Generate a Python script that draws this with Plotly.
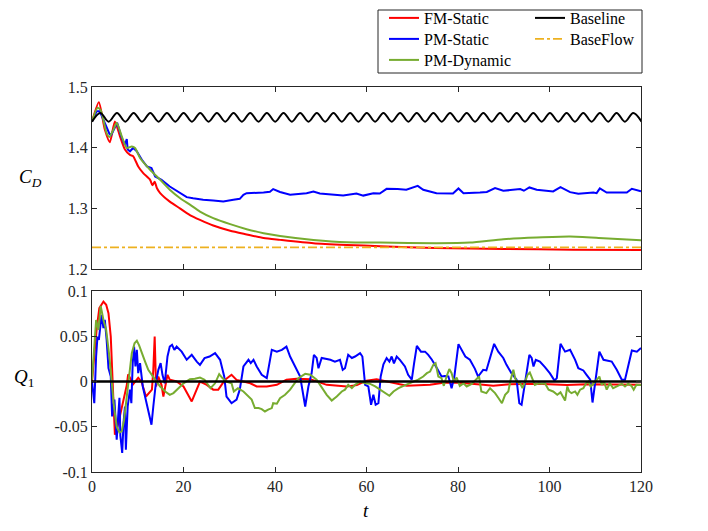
import plotly.graph_objects as go

# ---------------- data ----------------
# C_D (top panel)
red_t = [0, 1.5, 2.8, 3.9, 5.0, 6.1, 7.2, 8.3, 9.0, 10.1,
         11.2, 12.7, 13.2, 13.7, 14.2, 14.9, 17.0, 19.2, 21.4, 23.6,
         26.5, 30.2, 33.8, 37.5, 41.1, 48.4, 55.7, 63.0, 75.0, 90.0,
         105.0, 120.0]
red_cd = [1.443, 1.475, 1.430, 1.409, 1.443, 1.419, 1.397, 1.388, 1.386, 1.369,
          1.358, 1.347, 1.338, 1.344, 1.333, 1.325, 1.311, 1.300, 1.289, 1.281,
          1.2716, 1.263, 1.257, 1.251, 1.248, 1.2425, 1.2397, 1.2375, 1.2345, 1.233,
          1.2318, 1.2312]

green_t = [0, 1.2, 1.9, 3.2, 3.8, 4.7, 5.4, 6.5, 7.6, 8.7,
           9.4, 10.5, 12.7, 14.9, 17.0, 19.2, 21.4, 23.6, 26.5, 30.2,
           33.8, 37.5, 41.1, 48.4, 55.7, 63.0, 75.3, 82.6, 89.9, 97.2,
           104.5, 111.8, 120.0]
green_cd = [1.443, 1.4656, 1.4617, 1.424, 1.4177, 1.4298, 1.441, 1.4187, 1.3995, 1.402,
            1.3995, 1.383, 1.3636, 1.347, 1.3306, 1.317, 1.306, 1.2947, 1.2838, 1.2739,
            1.2656, 1.259, 1.2545, 1.248, 1.244, 1.2435, 1.2425, 1.2435, 1.249, 1.2518,
            1.2534, 1.2507, 1.2474]

blue_t = [0, 1.0, 1.7, 2.8, 3.8, 4.2, 5.0, 5.5, 6.5, 7.2,
          7.6, 7.8, 8.3, 9.0, 9.8, 10.9, 12.0, 13.0, 13.8, 15.2,
          17.0, 19.2, 20.7, 22.1, 24.3, 26.5, 28.7, 30.9, 32.3, 33.1,
          33.8, 37.5, 38.9, 39.6, 41.1, 43.3, 46.9, 48.4, 49.8, 54.9,
          57.8, 59.3, 61.5, 62.9, 64.4, 66.8, 68.7, 71.2, 72.4, 75.3,
          78.9, 80.1, 81.2, 84.8, 86.3, 88.1, 89.9, 93.6, 94.4, 95.6,
          97.2, 100.8, 102.4, 104.5, 106.3, 109.6, 110.3, 111.0, 112.5, 116.9,
          118.0, 120.0]
blue_cd = [1.443, 1.46, 1.46, 1.441, 1.423, 1.421, 1.435, 1.441, 1.416, 1.405,
           1.414, 1.397, 1.394, 1.3995, 1.394, 1.380, 1.369, 1.3665, 1.3526, 1.347,
           1.336, 1.325, 1.3185, 1.3165, 1.314, 1.313, 1.3112, 1.314, 1.3157, 1.3223,
           1.325, 1.326, 1.3273, 1.3317, 1.327, 1.3223, 1.325, 1.3278, 1.3245, 1.3212,
           1.3245, 1.321, 1.325, 1.3245, 1.3322, 1.3317, 1.3306, 1.337, 1.3306, 1.325,
           1.3245, 1.3328, 1.325, 1.3262, 1.327, 1.3333, 1.3289, 1.3317, 1.329, 1.3344,
           1.3306, 1.3278, 1.335, 1.3267, 1.324, 1.326, 1.325, 1.3328, 1.326, 1.326,
           1.3322, 1.328]

# Baseline: extrema of the vortex-shedding oscillation (trough / peak)
base_t = [0, 1.82, 3.64, 5.46, 7.28, 9.10, 10.92, 12.74, 14.56, 16.38,
          18.20, 20.02, 21.84, 23.66, 25.48, 27.30, 29.12, 30.94, 32.76, 34.58,
          36.40, 38.22, 40.04, 41.86, 43.68, 45.50, 47.32, 49.14, 50.96, 52.78,
          54.60, 56.42, 58.24, 60.06, 61.88, 63.70, 65.52, 67.34, 69.16, 70.98,
          72.80, 74.62, 76.44, 78.26, 80.08, 81.90, 83.72, 85.54, 87.36, 89.18,
          91.00, 92.82, 94.64, 96.46, 98.28, 100.10, 101.92, 103.74, 105.56, 107.38,
          109.20, 111.02, 112.84, 114.66, 116.48, 118.30, 120.12]
base_cd = [1.4428, 1.4572] * 33 + [1.4428]

baseflow_t = [0, 120]
baseflow_cd = [1.2358, 1.2358]

# Q_1 (bottom panel)
red_qt = [0, 1.0, 1.6, 2.5, 3.1, 3.6, 4.1, 4.5, 4.8, 5.0,
          5.3, 5.8, 6.5, 7.2, 7.6, 7.9, 9.0, 10.1, 10.8, 11.8,
          13.1, 13.4, 13.7, 14.0, 14.5, 15.2, 15.6, 16.5, 17.0, 18.5,
          20.0, 21.8, 22.5, 23.6, 25.1, 26.5, 27.6, 29.1, 30.5, 31.6,
          33.1, 34.6, 36.0, 38.2, 40.4, 42.5, 44.7, 47.7, 51.3, 55.7,
          57.9, 60.0, 62.2, 65.1, 68.8, 73.9, 76.8, 79.7, 82.6, 85.5,
          87.7, 91.3, 97.2, 103.8, 108.1, 113.2, 120.0]
red_q = [0, 0.057, 0.081, 0.0883, 0.0847, 0.0755, 0.0497, 0.0093, -0.035, -0.0588,
         -0.055, -0.045, -0.030, -0.012, -0.004, 0.008, -0.003, 0.004, 0.0, -0.0166,
         -0.009, 0.0129, 0.0497, -0.0055, 0.0055, -0.004, -0.0166, 0.0074, 0.002, 0.0,
         -0.0055, -0.022, -0.0128, 0.0, -0.0037, -0.009, -0.009, 0.002, 0.0074, 0.0018,
         0.0, -0.002, -0.0055, -0.0055, -0.0037, 0.002, 0.003, 0.0026, -0.0037, -0.0055,
         -0.004, 0.001, 0.0026, -0.0004, -0.0048, -0.0037, -0.0015, -0.001, -0.002, -0.0037,
         -0.0048, -0.003, -0.0025, -0.004, -0.003, -0.003, -0.0035]

blue_qt = [0, 0.5, 0.9, 1.2, 1.5, 1.7, 2.1, 2.5, 2.8, 3.2,
           3.6, 4.1, 4.4, 4.9, 5.4, 5.7, 6.0, 6.2, 6.6, 6.9,
           7.2, 7.4, 7.8, 8.3, 8.6, 8.9, 9.2, 9.5, 9.8, 10.1,
           10.5, 11.1, 11.6, 12.3, 13.0, 13.4, 14.0, 14.5, 15.0, 15.4,
           15.9, 16.5, 17.0, 17.5, 18.0, 18.5, 19.6, 20.7, 21.8, 22.9,
           23.6, 24.6, 25.7, 26.9, 28.0, 28.9, 29.4, 30.5, 31.6, 32.3,
           33.1, 34.2, 34.7, 35.3, 36.0, 37.1, 38.2, 39.3, 40.4, 41.5,
           42.5, 43.3, 44.4, 45.5, 46.6, 47.3, 48.0, 48.5, 49.1, 49.5,
           50.2, 52.1, 53.1, 54.2, 54.8, 55.3, 56.0, 56.8, 57.5, 58.6,
           59.1, 59.7, 60.4, 61.0, 61.5, 62.0, 62.6, 63.1, 63.7, 64.4,
           65.0, 65.5, 66.0, 66.6, 67.3, 68.4, 69.1, 69.9, 70.4, 71.0,
           71.9, 72.8, 73.5, 74.3, 75.4, 76.4, 77.1, 77.9, 78.6, 79.2,
           80.1, 80.8, 81.6, 82.6, 83.7, 84.4, 85.5, 86.2, 87.9, 88.8,
           89.9, 90.6, 91.7, 92.8, 93.4, 93.9, 94.7, 95.6, 96.1, 96.5,
           97.0, 97.9, 99.0, 100.1, 101.1, 101.6, 102.4, 103.4, 104.5, 105.6,
           106.3, 107.4, 108.1, 108.9, 109.4, 110.0, 110.9, 111.8, 113.6, 114.7,
           115.8, 116.5, 118.0, 119.1, 120.0]
blue_q = [0, -0.024, 0.0276, 0.0497, 0.046, 0.057, 0.0736, 0.059, 0.068, 0.046,
          0.0147, 0.0055, -0.0386, -0.020, -0.0643, -0.040, -0.018, -0.060, -0.079, -0.045,
          -0.0276, -0.0754, -0.0276, -0.009, -0.024, 0.0203, 0.0386, 0.0166, 0.035, 0.0093,
          0.0203, -0.0055, -0.0166, -0.035, -0.0478, -0.0276, 0.0, 0.0129, 0.0203, 0.0074,
          -0.002, 0.0276, 0.0386, 0.0405, 0.035, 0.0386, 0.033, 0.024, 0.0295, 0.022,
          0.0184, 0.0258, 0.0276, 0.0313, 0.024, 0.0055, -0.0166, -0.024, -0.020, -0.009,
          0.0166, 0.024, 0.0203, 0.024, 0.0166, 0.0074, 0.0037, 0.035, 0.033, 0.035,
          0.0386, 0.0276, 0.0166, 0.0055, -0.0276, -0.0055, 0.009, 0.0295, 0.026, 0.0147,
          0.026, 0.024, 0.022, 0.024, 0.0129, 0.0147, 0.0295, 0.026, 0.0276, 0.0313,
          0.0276, -0.0037, -0.0055, -0.0257, -0.0147, -0.0257, -0.024, 0.0055, 0.019, 0.0258,
          0.022, 0.0276, 0.020, 0.0276, 0.024, 0.0166, 0.0074, 0.002, 0.020, 0.0394,
          0.033, 0.033, 0.0295, 0.024, 0.0147, 0.0055, 0.006, 0.0055, -0.0074, 0.0055,
          0.0413, 0.035, 0.0276, 0.024, 0.014, 0.0055, 0.0129, 0.0122, 0.0416, 0.033,
          0.026, 0.0184, 0.009, 0.002, -0.024, -0.0257, 0.002, 0.0295, 0.026, 0.0166,
          0.024, 0.022, 0.0158, 0.009, 0.001, 0.0037, 0.0416, 0.033, 0.035, 0.024,
          0.0147, 0.0122, 0.0074, 0.002, -0.0232, 0.002, 0.033, 0.024, 0.022, 0.0129,
          0.002, 0.002, 0.0342, 0.033, 0.037]

green_qt = [0, 0.9, 1.4, 1.9, 2.5, 3.1, 3.8, 4.2, 4.8, 5.4,
            6.0, 6.5, 7.0, 7.6, 8.2, 8.7, 9.3, 9.8, 10.3, 10.9,
            11.6, 12.3, 13.0, 13.8, 14.9, 16.0, 17.0, 17.8, 18.9, 20.0,
            21.4, 22.5, 23.6, 24.6, 25.9, 26.9, 27.8, 28.5, 29.4, 30.5,
            31.0, 31.9, 33.1, 33.9, 34.9, 35.6, 36.4, 37.1, 37.8, 38.5,
            39.3, 39.6, 40.4, 41.1, 42.2, 43.3, 44.4, 45.1, 46.6, 47.7,
            49.1, 50.2, 51.3, 52.4, 53.5, 54.6, 55.3, 56.0, 56.8, 57.5,
            58.6, 59.7, 60.8, 61.9, 63.0, 64.1, 65.0, 65.9, 67.0, 68.1,
            69.1, 70.2, 71.3, 72.4, 73.2, 73.9, 74.6, 75.1, 75.7, 76.4,
            76.9, 77.5, 78.1, 78.6, 79.1, 79.7, 80.4, 81.2, 81.9, 83.0,
            84.1, 84.6, 85.1, 86.2, 87.0, 88.1, 88.8, 89.6, 90.3, 91.0,
            91.5, 92.1, 92.5, 92.8, 93.6, 94.1, 94.7, 95.2, 95.7, 96.3,
            96.8, 97.6, 98.3, 99.0, 99.8, 100.8, 101.7, 102.4, 103.4, 103.9,
            104.3, 104.8, 105.6, 106.1, 106.7, 107.4, 108.0, 108.5, 109.0, 109.7,
            110.3, 110.9, 111.4, 111.9, 112.5, 113.2, 113.9, 115.0, 115.8, 116.5,
            117.2, 117.9, 118.4, 119.0, 120.0]
green_q = [0.002, 0.068, 0.057, 0.0836, 0.068, 0.057, 0.0276, 0.002, -0.0276, -0.050,
           -0.0563, -0.055, -0.043, -0.0166, 0.0093, 0.0313, 0.0423, 0.0451, 0.040, 0.031,
           0.022, 0.0129, 0.0074, 0.002, -0.0055, -0.011, -0.0147, -0.0128, -0.0074, -0.002,
           0.0026, 0.003, 0.0044, 0.002, -0.0074, -0.002, 0.0081, 0.0037, 0.0, -0.002,
           -0.011, -0.0074, -0.011, -0.0147, -0.020, -0.0294, -0.0294, -0.0305, -0.0331, -0.031,
           -0.0294, -0.024, -0.0245, -0.0184, -0.0147, -0.009, -0.002, 0.0037, 0.0085, 0.0074,
           0.002, -0.007, -0.0147, -0.021, -0.0166, -0.011, -0.009, -0.0037, -0.0074, -0.0037,
           0.0, -0.002, -0.0026, -0.0055, -0.009, -0.0128, -0.0158, -0.011, -0.0074, -0.0048,
           -0.0026, 0.0, 0.002, 0.0055, 0.0092, 0.011, 0.0184, 0.0203, 0.0055, 0.0037,
           -0.0048, 0.0055, 0.0137, 0.0092, 0.0, 0.0044, -0.0048, -0.002, -0.0055, -0.0026,
           0.0037, 0.0055, -0.011, -0.0128, -0.0074, -0.0128, -0.018, -0.024, -0.0147, -0.011,
           0.002, 0.0129, 0.0037, 0.0, -0.002, -0.0074, 0.0, 0.0074, 0.010, 0.002,
           -0.0037, -0.002, -0.0026, -0.002, -0.009, -0.011, -0.0147, -0.012, -0.021, -0.0055,
           -0.011, -0.0128, -0.011, -0.0147, -0.009, -0.0074, -0.002, 0.0, -0.0055, -0.002,
           0.002, 0.0055, -0.0037, 0.0, -0.009, -0.002, -0.0074, -0.0048, -0.0026, -0.0055,
           -0.0026, -0.0048, -0.009, -0.0037, -0.004]

zero_t = [0, 120]
zero_q = [0, 0]

x_ticks = [0, 20, 40, 60, 80, 100, 120]
cd_ticks = [1.2, 1.3, 1.4, 1.5]
cd_ticklabels = ["1.2", "1.3", "1.4", "1.5"]
q_ticks = [-0.1, -0.05, 0, 0.05, 0.1]
q_ticklabels = ["-0.1", "-0.05", "0", "0.05", "0.1"]

# ---------------- styling ----------------
RED = "#FF0000"
BLUE = "#0000FF"
GREEN = "#77AC30"
BLACK = "#000000"
ORANGE = "#EDB120"
AX = "#262626"
FONT = "Liberation Serif"

# page body has an 8px margin: compensate so the axes land where the reference has them
OFF = 8
W, H = 708 - OFF, 531 - OFF
L, R, T, B = 92 - OFF, 67, 87 - OFF, 59
PW, PH = 549, 385          # plot area size in px (x 92..641, y 87..472 on the page)


def px(xp):   # page x (reference pixels) -> paper x
    return (xp - 92) / PW


def py(yp):   # page y (reference pixels) -> paper y
    return (472 - yp) / PH


fig = go.Figure()

# top panel
fig.add_trace(go.Scatter(x=red_t, y=red_cd, mode="lines", name="FM-Static",
                         line=dict(color=RED, width=2, shape="spline", smoothing=0.6),
                         xaxis="x", yaxis="y", legend="legend"))
fig.add_trace(go.Scatter(x=blue_t, y=blue_cd, mode="lines", name="PM-Static",
                         line=dict(color=BLUE, width=2),
                         xaxis="x", yaxis="y", legend="legend2"))
fig.add_trace(go.Scatter(x=green_t, y=green_cd, mode="lines", name="PM-Dynamic",
                         line=dict(color=GREEN, width=2, shape="spline", smoothing=0.6),
                         xaxis="x", yaxis="y", legend="legend3"))
fig.add_trace(go.Scatter(x=base_t, y=base_cd, mode="lines", name="Baseline",
                         line=dict(color=BLACK, width=2, shape="spline", smoothing=1.0),
                         xaxis="x", yaxis="y", legend="legend4"))
fig.add_trace(go.Scatter(x=baseflow_t, y=baseflow_cd, mode="lines", name="BaseFlow",
                         line=dict(color=ORANGE, width=1.8, dash="dashdot"),
                         xaxis="x", yaxis="y", legend="legend5"))

# bottom panel
fig.add_trace(go.Scatter(x=red_qt, y=red_q, mode="lines", showlegend=False,
                         line=dict(color=RED, width=2), xaxis="x2", yaxis="y2"))
fig.add_trace(go.Scatter(x=blue_qt, y=blue_q, mode="lines", showlegend=False,
                         line=dict(color=BLUE, width=2), xaxis="x2", yaxis="y2"))
fig.add_trace(go.Scatter(x=green_qt, y=green_q, mode="lines", showlegend=False,
                         line=dict(color=GREEN, width=2), xaxis="x2", yaxis="y2"))
fig.add_trace(go.Scatter(x=zero_t, y=zero_q, mode="lines", showlegend=False,
                         line=dict(color=BLACK, width=2.5), xaxis="x2", yaxis="y2"))

axis_common = dict(showline=True, mirror="ticks", linecolor=AX, linewidth=1,
                   ticks="inside", ticklen=5, tickcolor=AX, tickwidth=1,
                   showgrid=False, zeroline=False,
                   tickfont=dict(family=FONT, size=16, color=AX))

TOP0 = py(269)
BOT1 = py(291)

leg_font = dict(family=FONT, size=16, color="#000000")


def leg(xp, yp):
    return dict(x=px(xp), y=py(yp), xanchor="left", yanchor="middle",
                bgcolor="rgba(0,0,0,0)", borderwidth=0, font=leg_font)


def label(text, xp, yp):
    return dict(text=text, xref="paper", yref="paper", x=px(xp), y=py(yp),
                xanchor="center", yanchor="middle", showarrow=False,
                font=dict(family=FONT, size=19, color="#000000"))


fig.update_layout(
    width=W, height=H,
    margin=dict(l=L, r=R, t=T, b=B, autoexpand=False),
    paper_bgcolor="white", plot_bgcolor="white",
    font=dict(family=FONT, size=16, color="#000000"),
    xaxis=dict(domain=[0, 1], range=[0, 120], tickvals=x_ticks, showticklabels=False,
               anchor="y", **axis_common),
    yaxis=dict(domain=[TOP0, 1], range=[1.2, 1.5], tickvals=cd_ticks,
               ticktext=cd_ticklabels, anchor="x", **axis_common),
    xaxis2=dict(domain=[0, 1], range=[0, 120], tickvals=x_ticks, anchor="y2",
                **axis_common),
    yaxis2=dict(domain=[0, BOT1], range=[-0.1, 0.1], tickvals=q_ticks,
                ticktext=q_ticklabels, anchor="x2", **axis_common),
    legend=leg(384, 18),
    legend2=leg(384, 39),
    legend3=leg(384, 60),
    legend4=leg(530, 18),
    legend5=leg(530, 39),
    shapes=[dict(type="rect", xref="paper", yref="paper",
                 x0=px(378), x1=px(642), y0=py(73), y1=py(10),
                 line=dict(color=AX, width=1), fillcolor="white", layer="below")],
    annotations=[
        label("<i>C</i><sub><i>D</i></sub>", 30, 178),
        label("<i>Q</i><sub>1</sub>", 24, 378),
        label("<i>t</i>", 366, 510),
    ],
)

fig.write_html("out.html")
